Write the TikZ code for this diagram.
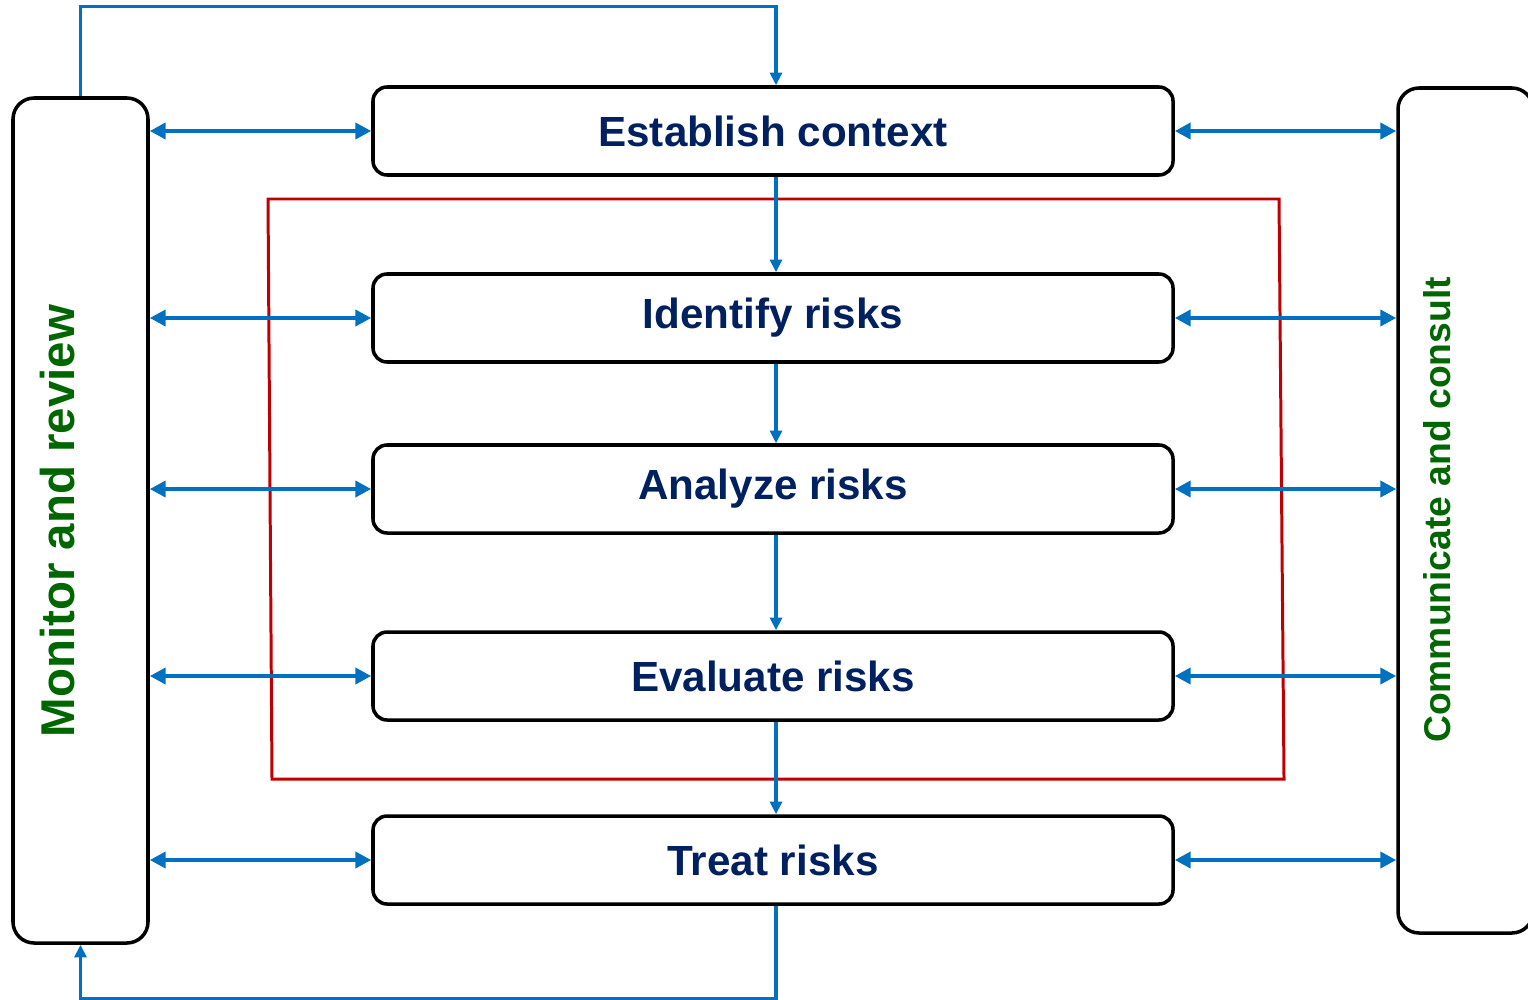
\documentclass[tikz,border=0pt]{standalone}
\usepackage{fontspec}
\setsansfont{Liberation Sans}
\usetikzlibrary{arrows.meta}

\definecolor{navytext}{HTML}{002060}
\definecolor{linkblue}{HTML}{0070C0}
\definecolor{sidegreen}{HTML}{006600}
\definecolor{framered}{HTML}{C00000}

\begin{document}
\begin{tikzpicture}[
      font=\sffamily\bfseries,
      stepbox/.style={draw=black, line width=1pt, rounded corners=4pt, fill=white,
        minimum width=8cm, minimum height=0.88cm, text=navytext, font=\sffamily\bfseries\fontsize{12}{14}\selectfont},
      sidebox/.style={draw=black, line width=1pt, rounded corners=6pt, minimum width=1.35cm},
      sidelabel/.style={rotate=90, text=sidegreen},
      link/.style={linkblue, line width=1.25pt, {Triangle[length=4.5pt,width=4.5pt]}-{Triangle[length=4.5pt,width=4.5pt]}},
      flow/.style={linkblue, line width=0.9pt, -{Triangle[length=3.6pt,width=3.4pt]}},
      redframe/.style={draw=framered, line width=0.85pt}
    ]
      \useasboundingbox (0,0) rectangle (15.28,-9.99);

      % frame round the assessment steps
      \draw[redframe]
        (2.68,-1.99) -- (12.79,-1.99) -- (12.84,-7.79) -- (2.72,-7.79) -- cycle;

      \node[sidebox, minimum height=8.45cm] (mon) at (0.805,-5.205) {};
      \node[sidebox, minimum height=8.45cm] (com) at (14.655,-5.105) {};
      \node[sidelabel, font=\sffamily\bfseries\fontsize{13.5}{16}\selectfont] at (0.58,-5.21) {Monitor and review};
      \node[sidelabel, font=\sffamily\bfseries\fontsize{10.6}{13}\selectfont] at (14.37,-5.10) {Communicate and consult};

      \node[stepbox] (est) at (7.73,-1.31) {Establish context};
      \node[stepbox] (ident) at (7.73,-3.18) {Identify risks};
      \node[stepbox] (anal) at (7.73,-4.89) {Analyze risks};
      \node[stepbox] (eval) at (7.73,-6.76) {Evaluate risks};
      \node[stepbox] (treat) at (7.73,-8.60) {Treat risks};

      \foreach \s in {est, ident, anal, eval, treat} {
        \draw[link] (mon.east |- \s) -- (\s.west);
        \draw[link] (\s.east) -- (com.west |- \s);
      }

      \draw[flow] ([xshift=0.03cm]est.south) -- ([xshift=0.03cm]ident.north);
      \draw[flow] ([xshift=0.03cm]ident.south) -- ([xshift=0.03cm]anal.north);
      \draw[flow] ([xshift=0.03cm]anal.south) -- ([xshift=0.03cm]eval.north);
      \draw[flow] ([xshift=0.03cm]eval.south) -- ([xshift=0.03cm]treat.north);

      % feedback loops
      \draw[flow] (mon.north) -- ++(0,0.9) -| ([xshift=0.03cm]est.north);
      \draw[flow] ([xshift=0.03cm]treat.south) -- ++(0,-0.93) -| (mon.south);
    \end{tikzpicture}
\end{document}
